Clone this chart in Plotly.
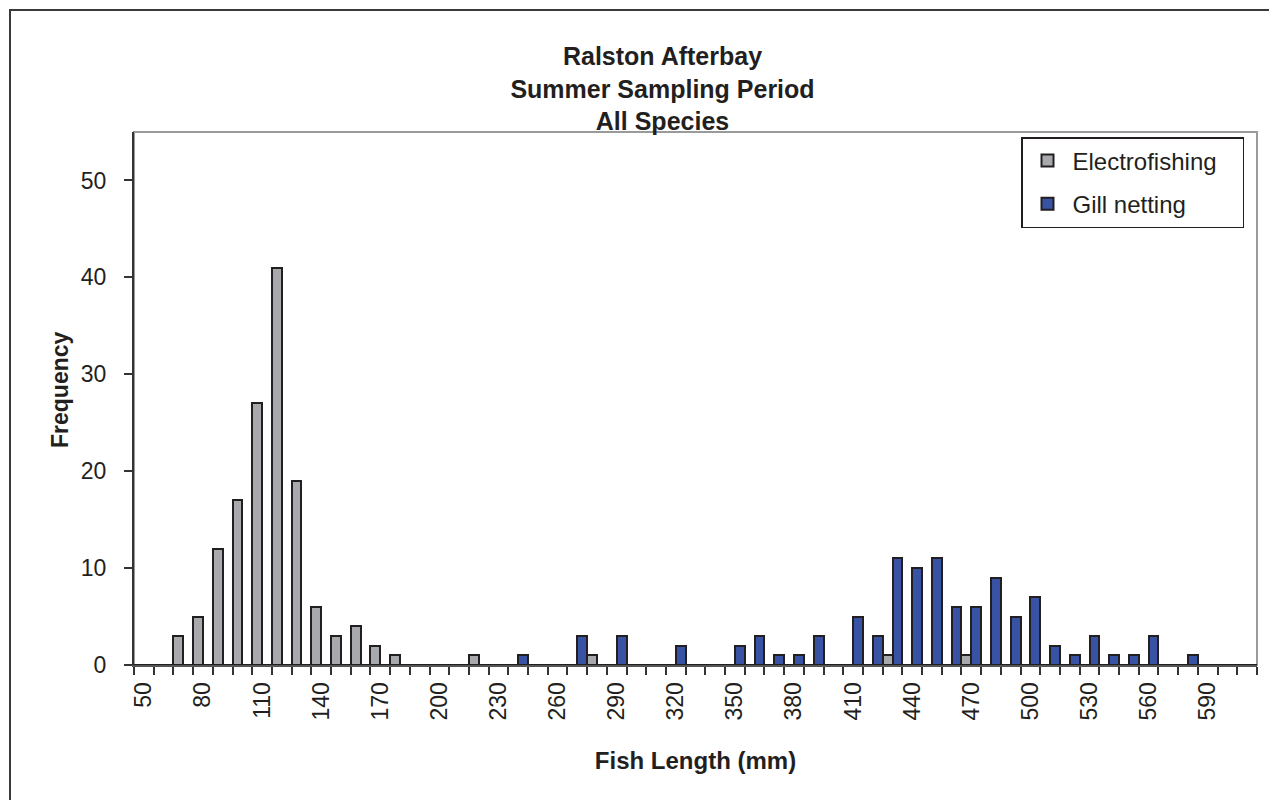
import plotly.graph_objects as go

# Fish length categories (mm)
lengths = list(range(50, 620, 10))
tick_labels = [str(v) if (v - 50) % 30 == 0 else "" for v in lengths]

electro_len = [70, 80, 90, 100, 110, 120, 130, 140, 150, 160, 170, 180, 220, 280, 430, 470]
electro_freq = [3, 5, 12, 17, 27, 41, 19, 6, 3, 4, 2, 1, 1, 1, 1, 1]

gill_len = [240, 270, 290, 320, 350, 360, 370, 380, 390, 410, 420, 430, 440, 450,
            460, 470, 480, 490, 500, 510, 520, 530, 540, 550, 560, 580]
gill_freq = [1, 3, 3, 2, 2, 3, 1, 1, 3, 5, 3, 11, 10, 11,
             6, 6, 9, 5, 7, 2, 1, 3, 1, 1, 3, 1]

cats = [str(v) for v in lengths]
e_map = dict(zip(electro_len, electro_freq))
g_map = dict(zip(gill_len, gill_freq))
electro = [e_map.get(v, 0) for v in lengths]
gill = [g_map.get(v, 0) for v in lengths]

FONT = "Liberation Sans, Arial, sans-serif"
TXT = "#231f20"
OFF = 8  # page body margin
W, H = 1277 - OFF, 800 - OFF
# plot area in screen pixels: x 134..1257, y 132..665
L, T = 134 - OFF, 132 - OFF
R = W - (1257 - OFF)
B = H - (665 - OFF)
pw, ph = W - L - R, H - T - B

def px_x(p):  # screen px -> paper x
    return (p - OFF - L) / pw

def px_y(p):  # screen px -> paper y
    return (H - B - (p - OFF)) / ph

NB = "\u00a0"

fig = go.Figure()
fig.add_trace(go.Bar(x=cats, y=electro, name="Electrofishing" + NB * 3,
                     marker=dict(color="#a7a9ac", line=dict(color="#231f20", width=2)),
                     legendgroup="a"))
fig.add_trace(go.Bar(x=cats, y=gill, name="Gill netting",
                     marker=dict(color="#3953a4", line=dict(color="#231f20", width=2)),
                     legendgroup="b"))

fig.update_layout(
    width=W, height=H,
    margin=dict(l=L, r=R, t=T, b=B, autoexpand=False),
    paper_bgcolor="white", plot_bgcolor="rgba(0,0,0,0)",
    font=dict(family=FONT, color=TXT, size=23),
    barmode="group", bargap=0, bargroupgap=0,
    title=dict(text="Ralston Afterbay<br>Summer Sampling Period<br>All Species",
               font=dict(family=FONT, size=25, color=TXT, weight="bold"),
               xref="paper", x=px_x(662.5), xanchor="center",
               yref="container", y=1 - 57 / H, yanchor="top"),
    xaxis=dict(type="category", categoryorder="array", categoryarray=cats,
               range=[-0.5, len(cats) - 0.5],
               tickmode="array", tickvals=cats, ticktext=tick_labels,
               tickson="boundaries", ticks="outside", ticklen=8, tickwidth=1.5,
               tickcolor="#333333", tickangle=-90, ticklabelstandoff=6,
               tickfont=dict(size=23),
               showline=True, linecolor="#555555", linewidth=2,
               showgrid=False, zeroline=False,
               title=dict(text="Fish Length (mm)", font=dict(size=24, weight="bold"),
                          standoff=33)),
    xaxis2=dict(type="category", categoryorder="array", categoryarray=cats,
                range=[-0.5, len(cats) - 0.5], overlaying="x",
                tickmode="array", tickvals=cats, ticktext=[""] * len(cats),
                tickson="boundaries", ticks="inside", ticklen=8, tickwidth=1.5,
                tickcolor="#333333", showline=False, showgrid=False,
                zeroline=False, side="bottom", anchor="y"),
    yaxis=dict(range=[0, 55], tick0=0, dtick=10, ticks="outside", ticklen=8,
               tickwidth=1.5, tickcolor="#333333", ticklabelstandoff=13,
               tickfont=dict(size=23),
               showline=True, linecolor="#333333", linewidth=2,
               showgrid=False, zeroline=False),
    yaxis2=dict(range=[0, 55], tick0=0, dtick=10, overlaying="y", ticks="inside",
                ticklen=8, tickwidth=1.5, tickcolor="#333333", showticklabels=False,
                showline=False, showgrid=False, zeroline=False, side="left",
                anchor="x"),
    legend=dict(x=px_x(1244), xanchor="right", y=px_y(137), yanchor="top",
                bgcolor="white", bordercolor="#231f20", borderwidth=1.5,
                font=dict(size=24, color=TXT), traceorder="grouped",
                tracegroupgap=9, itemwidth=40),
    annotations=[
        dict(text="Frequency", xref="paper", yref="paper", x=px_x(60), y=px_y(390),
             xanchor="center", yanchor="middle", textangle=-90, showarrow=False,
             font=dict(size=23, weight="bold", color=TXT)),
    ],
    shapes=[
        # plot area frame
        dict(type="rect", xref="paper", yref="paper", x0=0, x1=1, y0=0, y1=1,
             line=dict(color="#9a9a9a", width=2), layer="below"),
        # chart area frame
        dict(type="rect", xref="paper", yref="paper", x0=px_x(10), x1=px_x(1300),
             y0=px_y(820), y1=px_y(10), line=dict(color="#3a3a3a", width=2),
             layer="below"),
    ],
)

fig.write_html("out.html")
